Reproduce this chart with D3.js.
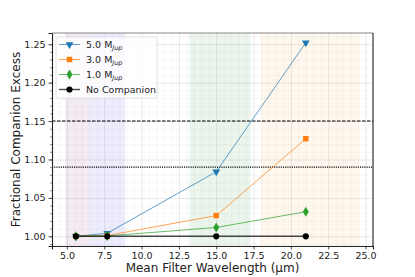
<!DOCTYPE html>
<html>
  <head>
    <meta charset="utf-8">
    <title>companion excess</title>
    <style>
      body { margin: 0; background: #fff; }
      text { font-family: "DejaVu Sans", sans-serif; }
    </style>
  </head>
  <body>
    <div id="container"></div>
    <script src="https://cdn.jsdelivr.net/npm/d3@7"></script>
    <script>
      // filter centres (um) and the values
      var wavelengths = [5.6, 7.7, 15.0, 21.0];
      var excess5 = [1.000, 1.004, 1.084, 1.252];
      var excess3 = [1.000, 1.001, 1.027, 1.127];
      var excess1 = [1.000, 1.0005, 1.0115, 1.032];
      var excess0 = [1.000, 1.000, 1.000, 1.000];
      var seriesNames = ["5.0", "3.0", "1.0", "No Companion"];
      // filter bandpasses
      var bandStart = [4.9, 6.5, 13.2, 18.0];
      var bandEnd = [6.5, 8.9, 17.3, 24.6];
      var bandColors = ["#c9a0c9", "#a9a9f5", "#a9d3a9", "#fbdcae"];
      var xTicks = [5.0, 7.5, 10.0, 12.5, 15.0, 17.5, 20.0, 22.5, 25.0];
      var yTicks = [1.00, 1.05, 1.10, 1.15, 1.20, 1.25];
      var thresholds = [1.15, 1.09];

      var width = 415, height = 277;
      var margin = {top: 33, right: 42, bottom: 31, left: 52};

      var x = d3.scaleLinear().domain([4, 25.5]).range([margin.left, width - margin.right]);
      var y = d3.scaleLinear().domain([0.9874, 1.2646]).range([height - margin.bottom, margin.top]);

      var svg = d3.select("#container").append("svg")
        .attr("width", width)
        .attr("height", height);

      // bands
      svg.selectAll("rect.band")
        .data(bandStart)
        .enter().append("rect")
        .attr("class", "band")
        .attr("x", function(d) { return x(d); })
        .attr("width", function(d, i) { return x(bandEnd[i]) - x(d); })
        .attr("y", margin.top)
        .attr("height", height - margin.bottom - margin.top)
        .style("fill", function(d, i) { return bandColors[i]; })
        .style("opacity", 0.22);

      // minor grid
      var xMinor = d3.range(4, 25.6, 0.5);
      var yMinor = d3.range(0.99, 1.265, 0.01);
      svg.append("g")
        .attr("transform", "translate(0," + (height - margin.bottom) + ")")
        .call(d3.axisBottom(x).tickValues(xMinor).tickSize(-(height - margin.top - margin.bottom)).tickFormat(""))
        .call(function(g) { g.select(".domain").remove(); })
        .selectAll("line").style("stroke", "#000").style("opacity", 0.03);
      svg.append("g")
        .attr("transform", "translate(" + margin.left + ",0)")
        .call(d3.axisLeft(y).tickValues(yMinor).tickSize(-(width - margin.left - margin.right)).tickFormat(""))
        .call(function(g) { g.select(".domain").remove(); })
        .selectAll("line").style("stroke", "#000").style("opacity", 0.03);
      // major grid
      svg.append("g")
        .attr("transform", "translate(0," + (height - margin.bottom) + ")")
        .call(d3.axisBottom(x).tickValues(xTicks).tickSize(-(height - margin.top - margin.bottom)).tickFormat(""))
        .call(function(g) { g.select(".domain").remove(); })
        .selectAll("line").style("stroke", "#000").style("opacity", 0.06);
      svg.append("g")
        .attr("transform", "translate(" + margin.left + ",0)")
        .call(d3.axisLeft(y).tickValues(yTicks).tickSize(-(width - margin.left - margin.right)).tickFormat(""))
        .call(function(g) { g.select(".domain").remove(); })
        .selectAll("line").style("stroke", "#000").style("opacity", 0.06);

      // threshold lines
      svg.selectAll("line.thr")
        .data(thresholds)
        .enter().append("line")
        .attr("class", "thr")
        .attr("x1", margin.left).attr("x2", width - margin.right)
        .attr("y1", function(d) { return y(d); })
        .attr("y2", function(d) { return y(d); })
        .style("stroke", "#000")
        .style("stroke-width", 1.1)
        .style("stroke-dasharray", function(d, i) { return i == 0 ? "3.5,1.5" : "1.1,1.1"; });

      var series = [
        {name: seriesNames[0], vals: excess5, color: "#1f77b4", sym: d3.symbolTriangle, rot: 180, size: 26, lw: 1},
        {name: seriesNames[1], vals: excess3, color: "#ff7f0e", sym: d3.symbolSquare, rot: 0, size: 30, lw: 1},
        {name: seriesNames[2], vals: excess1, color: "#2ca02c", sym: d3.symbolDiamond, rot: 0, size: 30, lw: 1},
        {name: seriesNames[3], vals: excess0, color: "#000000", sym: d3.symbolCircle, rot: 0, size: 30, lw: 1.4}
      ];

      var line = d3.line()
        .x(function(d, i) { return x(wavelengths[i]); })
        .y(function(d) { return y(d); });

      series.forEach(function(s) {
        svg.append("path")
          .datum(s.vals)
          .attr("d", line)
          .style("fill", "none")
          .style("stroke", s.color)
          .style("stroke-width", s.lw)
          .style("opacity", s.name == "No Companion" ? 0.7 : 0.7);
        svg.selectAll(null)
          .data(s.vals)
          .enter().append("path")
          .attr("d", d3.symbol().type(s.sym).size(s.size))
          .attr("transform", function(d, i) {
            return "translate(" + x(wavelengths[i]) + "," + y(d) + ") rotate(" + s.rot + ")";
          })
          .style("fill", s.color);
      });

      // axes
      var xAxis = svg.append("g")
        .attr("transform", "translate(0," + (height - margin.bottom) + ")")
        .call(d3.axisBottom(x).tickValues(xTicks).tickFormat(d3.format(".1f")).tickSize(3.5).tickPadding(3));
      var yAxis = svg.append("g")
        .attr("transform", "translate(" + margin.left + ",0)")
        .call(d3.axisLeft(y).tickValues(yTicks).tickFormat(d3.format(".2f")).tickSize(3.5).tickPadding(3));
      svg.append("g")
        .attr("transform", "translate(" + margin.left + ",0)")
        .call(d3.axisLeft(y).tickValues(d3.range(0.99, 1.26, 0.01)).tickFormat("").tickSize(2))
        .call(function(g) { g.select(".domain").remove(); })
        .selectAll("line").style("stroke", "#444").style("stroke-width", 0.6);
      [xAxis, yAxis].forEach(function(g) {
        g.select(".domain").style("stroke", "#222").style("stroke-width", 1.1);
        g.selectAll(".tick line").style("stroke", "#222").style("stroke-width", 0.8);
        g.selectAll("text").style("font-size", "9.5px").style("fill", "#222");
      });
      // top and right spines
      svg.append("line")
        .attr("x1", margin.left).attr("x2", width - margin.right)
        .attr("y1", margin.top).attr("y2", margin.top)
        .style("stroke", "#888").style("stroke-width", 1.1);
      svg.append("line")
        .attr("x1", width - margin.right).attr("x2", width - margin.right)
        .attr("y1", margin.top).attr("y2", height - margin.bottom)
        .style("stroke", "#222").style("stroke-width", 1.1);

      // axis labels
      svg.append("text")
        .attr("x", (margin.left + width - margin.right) / 2)
        .attr("y", 272)
        .attr("text-anchor", "middle")
        .style("font-size", "12px")
        .style("fill", "#222")
        .text("Mean Filter Wavelength (\u03bcm)");
      svg.append("text")
        .attr("transform", "translate(20," + ((margin.top + height - margin.bottom) / 2) + ") rotate(-90)")
        .attr("text-anchor", "middle")
        .style("font-size", "12px")
        .style("fill", "#222")
        .text("Fractional Companion Excess");

      // legend
      var leg = svg.append("g").attr("transform", "translate(56,37)");
      leg.append("rect")
        .attr("width", 101).attr("height", 61)
        .attr("rx", 2.5)
        .style("fill", "#fff").style("fill-opacity", 0.8)
        .style("stroke", "#ddd").style("stroke-width", 0.8);
      series.forEach(function(s, i) {
        var ly = 7.5 + i * 15;
        leg.append("line")
          .attr("x1", 3).attr("x2", 24)
          .attr("y1", ly).attr("y2", ly)
          .style("stroke", s.color).style("stroke-width", s.lw)
          .style("opacity", 0.7);
        leg.append("path")
          .attr("d", d3.symbol().type(s.sym).size(s.size))
          .attr("transform", "translate(13.5," + ly + ") rotate(" + s.rot + ")")
          .style("fill", s.color);
        var t = leg.append("text")
          .attr("x", 30).attr("y", ly + 3.5)
          .style("font-size", "9.5px")
          .style("fill", "#222");
        if (s.name == "No Companion") {
          t.text(s.name);
        } else {
          t.append("tspan").text(s.name + " M");
          t.append("tspan").attr("dy", 2).style("font-size", "6.5px").style("font-style", "italic").text("Jup");
        }
      });
    </script>
  </body>
</html>
